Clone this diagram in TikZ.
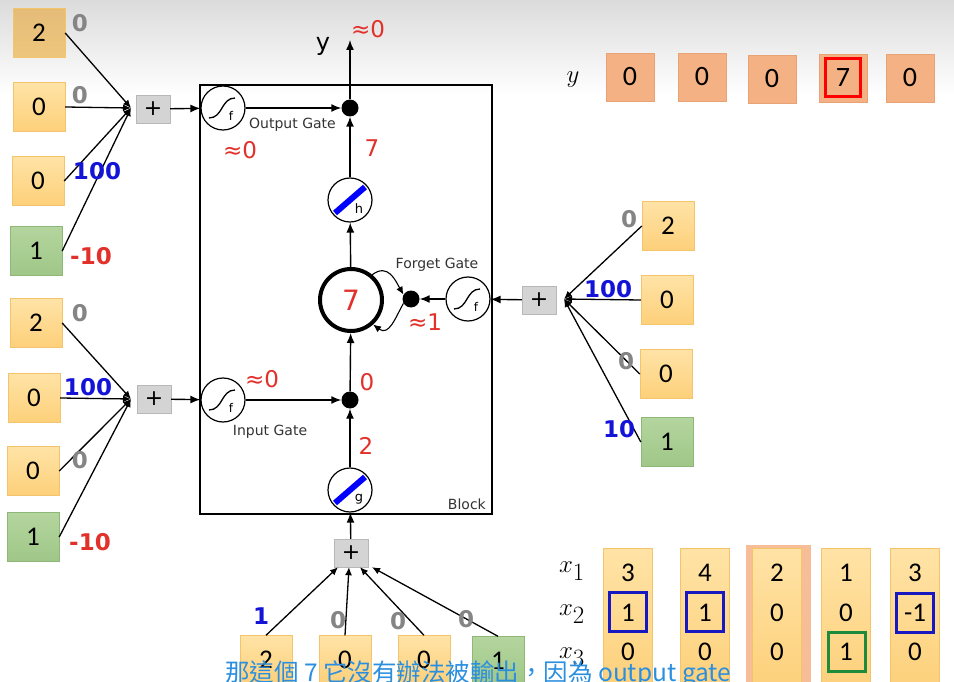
\documentclass[tikz,border=0pt]{standalone}
\usepackage{fontspec}
\setmainfont{DejaVu Sans}
\newfontfamily\boxfont{Carlito}
\newfontfamily\cjkfont{Noto Sans CJK TC}
\usepackage{xcolor}
\usepackage{tikz}
\usetikzlibrary{arrows.meta,positioning}
\definecolor{boxtop}{HTML}{FFE3A6}
\definecolor{boxbot}{HTML}{FDD07A}
\definecolor{boxedge}{HTML}{F3C46C}
\definecolor{tantop}{HTML}{E4BC78}
\definecolor{tanbot}{HTML}{EEC67C}
\definecolor{grntop}{HTML}{B4D59E}
\definecolor{grnbot}{HTML}{9FC788}
\definecolor{grnedge}{HTML}{8DB878}
\definecolor{salmon}{HTML}{F4B183}
\definecolor{salmonedge}{HTML}{E8A276}
\definecolor{lred}{HTML}{E2302A}
\definecolor{wblue}{HTML}{1414D8}
\definecolor{wgray}{HTML}{858585}
\definecolor{subblue}{HTML}{2A8FE0}
\definecolor{frblue}{HTML}{1818C0}
\definecolor{frgreen}{HTML}{1E8B3C}

\begin{document}
\begin{tikzpicture}[x=1pt, y=-1pt,
    arr/.style={-{Latex[length=10pt,width=8pt]}, line width=1.4pt},
    tip/.style={-{Latex[length=8pt,width=7pt]}, line width=1.3pt},
    inbox/.style={rectangle, draw=boxedge, top color=boxtop, bottom color=boxbot,
      minimum width=52pt, minimum height=49pt, font=\boxfont\fontsize{27}{27}\selectfont},
    biasbox/.style={inbox, draw=grnedge, top color=grntop, bottom color=grnbot},
    plusbox/.style={rectangle, draw=black!28, fill=black!17, minimum width=34pt,
      minimum height=28pt, inner sep=0pt, font=\fontsize{22}{22}\selectfont},
    sig/.style={circle, draw, line width=1.2pt, minimum size=44pt, inner sep=0pt,
      path picture={\draw[line width=1.3pt]
        ([shift={(-14pt,-10pt)}]path picture bounding box.center)
        .. controls +(14pt,0pt) and +(-14pt,0pt) ..
        ([shift={(12pt,10pt)}]path picture bounding box.center);},
      label={[xshift=8pt, yshift=-8pt, font=\fontsize{12}{12}\selectfont]center:f}},
    tanh/.style={circle, draw, line width=1.2pt, minimum size=44pt, inner sep=0pt,
      path picture={\draw[blue, line width=6pt]
        ([shift={(-15pt,-13pt)}]path picture bounding box.center) --
        ([shift={(15pt,13pt)}]path picture bounding box.center);}},
    dot/.style={circle, fill=black, minimum size=17pt, inner sep=0pt},
    wt/.style={font=\bfseries\fontsize{23}{23}\selectfont, inner sep=0pt},
    val/.style={text=lred, font=\fontsize{23}{23}\selectfont, inner sep=0pt},
    gatelab/.style={text=black!80, font=\fontsize{14}{14}\selectfont, inner sep=0pt},
    mathlab/.style={font=\fontsize{34}{34}\selectfont, inner sep=0pt},
    ybox/.style={rectangle, draw=salmonedge, fill=salmon, minimum size=48pt,
      font=\boxfont\fontsize{28}{28}\selectfont},
    colbox/.style={rectangle, draw=boxedge, top color=boxtop, bottom color=boxbot,
      minimum width=49pt, minimum height=141pt},
    frame/.style={rectangle, line width=3pt, minimum width=37pt, minimum height=39pt}]

  % page and grey band at the top
  \fill[white] (0,0) rectangle (954,682);
  \useasboundingbox (0,0) rectangle (954,682);
  \shade[top color=black!14, bottom color=white] (0,0) rectangle (954,95);

  % memory block
  \draw[line width=1.6pt] (200,85) rectangle (492,514);
  \node[gatelab, anchor=south east] (blocklab) at (486,510) {Block};

  % output gate inputs
  \node[inbox, top color=tantop, bottom color=tanbot] (o1) at (39,33) {2};
  \node[inbox] (o2) at (39,107) {0};
  \node[inbox] (o3) at (38,181) {0};
  \node[biasbox] (o4) at (36,251) {1};
  \coordinate (oj) at (131,108);
  \foreach \b in {o1,o2,o3,o4}
    \draw[tip] (\b.east) -- (oj);
  \node[wt, text=wgray] (ow1) at (80,23) {0};
  \node[wt, text=wgray] (ow2) at (80,95) {0};
  \node[wt, text=wblue] (ow3) at (97,171) {100};
  \node[wt, text=lred] (ow4) at (91,256) {-10};
  \node[plusbox] (oplus) at (153,109) {+};
  \node[sig] (osig) at (223,108) {};
  \node[dot] (odot) at (350,108) {};
  \draw[arr] (oplus) -- (osig);
  \draw[arr] (osig) -- (odot);
  \node[gatelab, anchor=north west] (olab) at (249,118) {Output Gate};
  \node[val] (ov) at (240,150) {≈0};
  \coordinate (ytip) at (350,40);
  \draw[arr] (odot) -- (ytip);
  \node[font=\fontsize{24}{24}\selectfont, inner sep=0pt] (ylab) at (323,46) {y};
  \node[val] (yv) at (368,29) {≈0};

  % input gate inputs
  \node[inbox] (i1) at (36,323) {2};
  \node[inbox] (i2) at (34,398) {0};
  \node[inbox] (i3) at (33,471) {0};
  \node[biasbox] (i4) at (33,537) {1};
  \coordinate (ij) at (131,399);
  \foreach \b in {i1,i2,i3,i4}
    \draw[tip] (\b.east) -- (ij);
  \node[wt, text=wgray] (iw1) at (80,313) {0};
  \node[wt, text=wblue] (iw2) at (88,387) {100};
  \node[wt, text=wgray] (iw3) at (80,460) {0};
  \node[wt, text=lred] (iw4) at (90,542) {-10};
  \node[plusbox] (iplus) at (154,399) {+};
  \node[sig] (isig) at (223,400) {};
  \node[dot] (idot) at (350,400) {};
  \draw[arr] (iplus) -- (isig);
  \draw[arr] (isig) -- (idot);
  \node[gatelab] (ilab) at (270,432) {Input Gate};
  \node[val] (iv) at (262,379) {≈0};

  % cell, squashing units
  \node[circle, draw, line width=4pt, minimum size=62pt, inner sep=0pt,
    text=lred, font=\fontsize{28}{28}\selectfont] (cell) at (351,300) {7};
  \node[tanh, label={[xshift=9pt, yshift=-9pt, font=\fontsize{13}{13}\selectfont]center:h}]
    (hc) at (350,200) {};
  \node[tanh, label={[xshift=9pt, yshift=-9pt, font=\fontsize{13}{13}\selectfont]center:g}]
    (gc) at (350,490) {};
  \draw[arr] (gc) -- (idot);
  \draw[arr] (idot) -- (cell);
  \draw[arr] (cell) -- (hc);
  \draw[arr] (hc) -- (odot);
  \node[val] (hv) at (372,148) {7};
  \node[val] (gv) at (366,446) {2};
  \node[val] (cv) at (367,382) {0};

  % forget gate
  \node[sig] (fsig) at (468,299) {};
  \node[dot] (fdot) at (411,299) {};
  \draw[arr] (fsig) -- (fdot);
  \draw[tip, line width=1.1pt] (cell.50) .. controls +(16pt,12pt) and +(-8pt,14pt) .. (fdot.150);
  \draw[tip, line width=1.1pt] (fdot.210) .. controls +(-8pt,-14pt) and +(16pt,-12pt) .. (cell.-48);
  \node[gatelab] (flab) at (437,265) {Forget Gate};
  \node[val] (fv) at (425,322) {≈1};
  \node[plusbox] (fplus) at (539,300) {+};
  \draw[arr] (fplus) -- (fsig);
  \node[inbox] (f1) at (668,226) {2};
  \node[inbox] (f2) at (667,300) {0};
  \node[inbox] (f3) at (666,374) {0};
  \node[biasbox] (f4) at (667,442) {1};
  \coordinate (fj) at (564,299);
  \foreach \b in {f1,f2,f3,f4}
    \draw[tip] (\b.west) -- (fj);
  \node[wt, text=wgray] (fw1) at (629,219) {0};
  \node[wt, text=wblue] (fw2) at (608,289) {100};
  \node[wt, text=wgray] (fw3) at (626,361) {0};
  \node[wt, text=wblue] (fw4) at (619,429) {10};

  % cell input
  \node[plusbox] (bplus) at (351,553) {+};
  \draw[arr] (bplus) -- (gc);
  \node[inbox] (b1) at (266,660) {2};
  \node[inbox] (b2) at (345,660) {0};
  \node[inbox] (b3) at (424,660) {0};
  \node[biasbox] (b4) at (498,661) {1};
  \draw[tip] (b1.north) -- ([xshift=-13pt]bplus.south);
  \draw[tip] (b2.north) -- ([xshift=-2pt]bplus.south);
  \draw[tip] (b3.north) -- ([xshift=9pt]bplus.south);
  \draw[tip] (b4.north) -- ([xshift=21pt]bplus.south);
  \node[wt, text=wblue] (bw1) at (261,616) {1};
  \node[wt, text=wgray] (bw2) at (338,620) {0};
  \node[wt, text=wgray] (bw3) at (398,621) {0};
  \node[wt, text=wgray] (bw4) at (466,619) {0};

  % output sequence
  \node[mathlab] (yrow) at (573,80) {$y$};
  \foreach \cx/\cy/\v [count=\k] in {630/77/0, 702/77/0, 772/79/0, 843/78/7, 910/78/0}
    \node[ybox] (y\k) at (\cx,\cy) {\v};
  \node[frame, draw=red, minimum width=35pt, minimum height=38pt] (yfr) at (y4) {};

  % input sequence
  \node[mathlab] (x1lab) at (572,571) {$x_1$};
  \node[mathlab] (x2lab) at (572,614) {$x_2$};
  \node[mathlab] (x3lab) at (572,657) {$x_3$};
  \node[rectangle, fill=salmon!85, minimum width=65pt, minimum height=145pt] (hl) at (778,617) {};
  \foreach \cx/\a/\b/\c [count=\k] in {628/3/1/0, 705/4/1/0, 777/2/0/0, 846/1/0/1, 915/3/-1/0} {
    \node[colbox] (col\k) at (\cx,619) {};
    \node[font=\boxfont\fontsize{27}{27}\selectfont] (t\k-1) at (\cx,573) {\a};
    \node[font=\boxfont\fontsize{27}{27}\selectfont] (t\k-2) at (\cx,613) {\b};
    \node[font=\boxfont\fontsize{27}{27}\selectfont] (t\k-3) at (\cx,652) {\c};
  }
  \node[frame, draw=frblue] (fr1) at (628,612) {};
  \node[frame, draw=frblue] (fr2) at (705,612) {};
  \node[frame, draw=frblue] (fr5) at (915,613) {};
  \node[frame, draw=frgreen] (fr4) at (847,652) {};

  % subtitle
  \node[anchor=base west, inner sep=0pt, text=subblue,
    font=\cjkfont\fontsize{24.5}{24.5}\selectfont] (sub) at (225,681)
    {那這個 7 它沒有辦法被輸出，因為 output gate};
\end{tikzpicture}
\end{document}
